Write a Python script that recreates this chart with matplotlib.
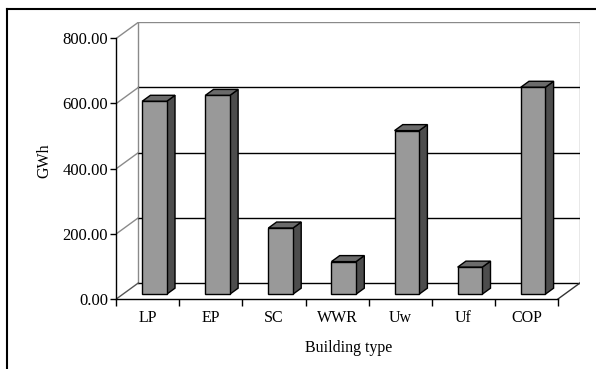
import numpy as np
import matplotlib
matplotlib.use("Agg")
import matplotlib.pyplot as plt
from matplotlib.patches import Polygon
from matplotlib.lines import Line2D

plt.rcParams['font.family'] = ['Liberation Serif', 'DejaVu Serif']

# Data
categories = ["LP", "EP", "SC", "WWR", "Uw", "Uf", "COP"]
values = [592, 610, 203, 100, 502, 83, 635]
y_ticks = [0, 200, 400, 600, 800]
y_label = "GWh"
x_label = "Building type"

# 3D look: depth offset of the back wall (in data units) and bar geometry
DX, DY = 0.349, 49.2          # full depth shift
F0, F1 = 0.30, 0.675          # bar front / back depth fractions
HALF_W = 0.195                # half width of a bar
C_FRONT, C_SIDE, C_TOP = "#999999", "#4d4d4d", "#6b6b6b"
WALL = "#8a8a8a"

W, H = 596, 369
fig = plt.figure(figsize=(W / 100, H / 100), dpi=100)
left_px, right_px, bottom_px, top_px = 116.3, 580.0, 299.0, 22.3
ax = fig.add_axes([left_px / W, (H - bottom_px) / H,
                   (right_px - left_px) / W, (bottom_px - top_px) / H])
ax.set_xlim(-0.5, len(categories) - 0.5 + DX)
ax.set_ylim(0, y_ticks[-1] + DY)
ax.patch.set_visible(False)

x0, x1 = -0.5, len(categories) - 0.5
ymax = y_ticks[-1]

# back wall with gridlines
ax.plot([x0 + DX, x0 + DX], [DY, ymax + DY], color=WALL, lw=1.0, zorder=1)
ax.plot([x1 + DX, x1 + DX], [DY, ymax + DY], color=WALL, lw=1.0, zorder=1)
for v in y_ticks:
    col = WALL if v == ymax else "black"
    ax.plot([x0 + DX, x1 + DX], [v + DY, v + DY], color=col, lw=1.0, zorder=1)
    # diagonals from the value axis to the back wall
    ax.plot([x0, x0 + DX], [v, v + DY], color=WALL if v else "#555555", lw=1.0, zorder=1)
# floor right edge
ax.plot([x1, x1 + DX], [0, DY], color="#333333", lw=1.0, zorder=1)

# bars
for i, v in enumerate(values):
    xl = i - HALF_W + F0 * DX
    xr = i + HALF_W + F0 * DX
    yb = F0 * DY
    yt = v + F0 * DY
    ddx = (F1 - F0) * DX
    ddy = (F1 - F0) * DY
    side = Polygon([(xr, yb), (xr + ddx, yb + ddy), (xr + ddx, yt + ddy), (xr, yt)],
                   closed=True, facecolor=C_SIDE, edgecolor="black", lw=1.0, zorder=3)
    top = Polygon([(xl, yt), (xr, yt), (xr + ddx, yt + ddy), (xl + ddx, yt + ddy)],
                  closed=True, facecolor=C_TOP, edgecolor="black", lw=1.0, zorder=3)
    front = Polygon([(xl, yb), (xr, yb), (xr, yt), (xl, yt)],
                    closed=True, facecolor=C_FRONT, edgecolor="black", lw=1.0, zorder=4)
    for p in (side, top, front):
        ax.add_patch(p)

# axes
for s in ("top", "right"):
    ax.spines[s].set_visible(False)
ax.spines["left"].set_bounds(0, ymax)
ax.spines["bottom"].set_bounds(x0, x1)
for s in ("left", "bottom"):
    ax.spines[s].set_linewidth(1.0)
    ax.spines[s].set_zorder(5)

ax.set_yticks(y_ticks)
ax.set_yticklabels([f"{v:.2f}" for v in y_ticks], fontsize=12)
ax.tick_params(axis="y", direction="out", length=4, width=1.0, pad=2)

ax.set_xticks(np.arange(x0, x1 + 0.01, 1.0))
ax.set_xticklabels([])
ax.tick_params(axis="x", which="major", direction="out", length=5, width=1.0)
ax.set_xticks(np.arange(len(categories)), minor=True)
ax.set_xticklabels(categories, minor=True, fontsize=11.5)
ax.tick_params(axis="x", which="minor", length=0, pad=8)

ax.set_ylabel(y_label, fontsize=11.5, labelpad=7)
ax.set_xlabel(x_label, fontsize=11.5, labelpad=10)

# outer chart frame
fig.add_artist(Line2D([7.5 / W, 7.5 / W], [0, 1 - 9 / H], transform=fig.transFigure,
                      color="black", lw=1.5))
fig.add_artist(Line2D([7.5 / W, 1], [1 - 9 / H, 1 - 9 / H], transform=fig.transFigure,
                      color="black", lw=1.5))

fig.savefig("out.png", dpi=100)
